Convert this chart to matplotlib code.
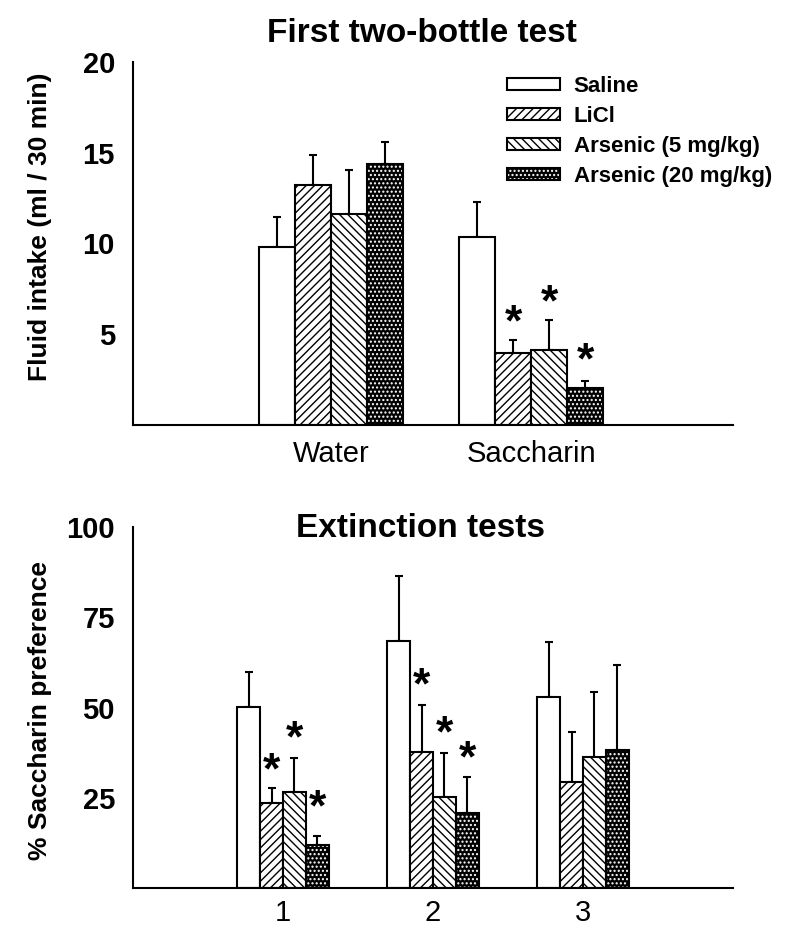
import numpy as np
import matplotlib
matplotlib.use('Agg')
import matplotlib.pyplot as plt
from matplotlib.patches import Patch

plt.rcParams['font.family'] = 'Liberation Sans'
plt.rcParams['hatch.linewidth'] = 1.0

groups = ['Saline', 'LiCl', 'Arsenic (5 mg/kg)', 'Arsenic (20 mg/kg)']
hatches = ['', '////', '\\\\\\\\', '....']

# first two-bottle test (ml / 30 min)
fluid_cats = ['Water', 'Saccharin']
fluid_mean = [[9.8, 10.35], [13.2, 3.98], [11.65, 4.12], [14.4, 2.02]]
fluid_err = [[1.65, 1.95], [1.65, 0.7], [2.4, 1.65], [1.2, 0.42]]
fluid_star = [[None, None], [None, 5.95], [None, 7.05], [None, 3.85]]

# extinction tests (% saccharin preference)
ext_cats = ['1', '2', '3']
ext_mean = [[50.2, 68.5, 53.0], [23.6, 37.7, 29.3], [26.5, 25.3, 36.3], [11.9, 20.7, 38.1]]
ext_err = [[9.5, 18.0, 15.2], [4.0, 13.0, 14.0], [9.4, 12.2, 18.0], [2.6, 10.1, 23.7]]
ext_star = [[None, None, None], [34.1, 57.6, None], [42.9, 44.3, None], [23.9, 37.5, None]]

fig = plt.figure(figsize=(7.85, 9.46), dpi=100)
ax1 = fig.add_axes([133/785, 1-425/946, 600/785, 363/946])
ax2 = fig.add_axes([133/785, 1-888/946, 600/785, 361/946])

STAR_SIZE = 32


def draw_bars(ax, cats, means, errs, stars, width, first):
    centers = np.arange(len(cats)) + first
    for i in range(4):
        x = centers + (i - 1.5) * width
        if i == 3:
            ax.bar(x, means[i], width, facecolor='black', edgecolor='white',
                   hatch=hatches[i], linewidth=0, zorder=2)
            ax.bar(x, means[i], width, fill=False, edgecolor='black',
                   linewidth=1.5, zorder=3)
        else:
            ax.bar(x, means[i], width, facecolor='white', edgecolor='black',
                   hatch=hatches[i], linewidth=1.5, zorder=2)
        ax.errorbar(x, means[i], yerr=[np.zeros(len(cats)), errs[i]], fmt='none',
                    ecolor='black', elinewidth=1.5, capsize=3, capthick=1.5, zorder=1)
        for xx, s in zip(x, stars[i]):
            if s is not None:
                # shift so the glyph (not the text box) is centred on s
                ax.annotate('*', (xx, s), xytext=(0, -0.42 * STAR_SIZE),
                            textcoords='offset points', ha='center',
                            va='baseline', fontsize=STAR_SIZE, fontweight='bold')
    ax.set_xticks(centers)
    ax.set_xticklabels(cats, fontsize=21)
    for sp in ['top', 'right']:
        ax.spines[sp].set_visible(False)
    for sp in ['left', 'bottom']:
        ax.spines[sp].set_linewidth(1.5)
    ax.tick_params(axis='both', length=0)
    ax.tick_params(axis='y', pad=13)


draw_bars(ax1, fluid_cats, fluid_mean, fluid_err, fluid_star, 0.18, 0)
ax1.set_xlim(-0.99, 2.01)
ax1.set_ylim(0, 20)
ax1.set_yticks([5, 10, 15, 20])
ax1.set_yticklabels(['5', '10', '15', '20'], fontsize=21, fontweight='bold')
ax1.tick_params(axis='x', pad=11)

draw_bars(ax2, ext_cats, ext_mean, ext_err, ext_star, 0.153, 1)
ax2.set_xlim(0, 4)
ax2.set_ylim(0, 100)
ax2.set_yticks([25, 50, 75, 100])
ax2.set_yticklabels(['25', '50', '75', '100'], fontsize=21, fontweight='bold')
ax2.tick_params(axis='x', pad=8)

fig.text(422/785, 1-42/946, 'First two-bottle test', ha='center', va='baseline',
         fontsize=24, fontweight='bold')
fig.text(421/785, 1-537/946, 'Extinction tests', ha='center', va='baseline',
         fontsize=24, fontweight='bold')
fig.text(40/785, 1-227/946, 'Fluid intake (ml / 30 min)', rotation=90,
         ha='center', va='center', fontsize=19, fontweight='bold')
fig.text(40/785, 1-710/946, '% Saccharin preference', rotation=90,
         ha='center', va='center', fontsize=19, fontweight='bold')

# legend
handles = [
    Patch(facecolor='white', edgecolor='black', linewidth=1.5),
    Patch(facecolor='white', edgecolor='black', hatch=hatches[1], linewidth=1.5),
    Patch(facecolor='white', edgecolor='black', hatch=hatches[2], linewidth=1.5),
    (Patch(facecolor='black', edgecolor='white', hatch=hatches[3], linewidth=0),
     Patch(fill=False, edgecolor='black', linewidth=1.5)),
]
fig.legend(handles, groups, loc='upper left',
           bbox_to_anchor=(507/785, 1-76/946), frameon=False,
           prop={'weight': 'bold', 'size': 16}, handlelength=2.4,
           handleheight=0.45, handletextpad=0.6, labelspacing=0.4,
           borderpad=0, borderaxespad=0)

fig.savefig('out.png', dpi=100)
